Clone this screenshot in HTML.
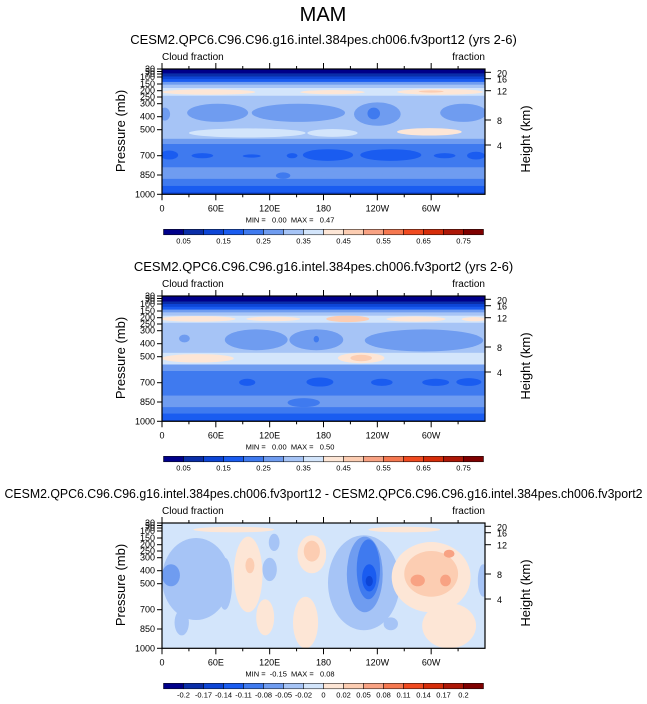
<!DOCTYPE html>
<html><head><meta charset="utf-8"><style>
html,body{margin:0;padding:0;background:#fff}
svg{display:block;font-family:"Liberation Sans",Arial,sans-serif}
text{white-space:pre}
</style></head><body>
<svg id="fig" width="647" height="704" viewBox="0 0 647 704">
<text x="323" y="21" font-size="20" text-anchor="middle">MAM</text>
</svg>
<script>
// ---- data ----
const panelTitles = ["CESM2.QPC6.C96.C96.g16.intel.384pes.ch006.fv3port12 (yrs 2-6)",
  "CESM2.QPC6.C96.C96.g16.intel.384pes.ch006.fv3port2 (yrs 2-6)",
  "CESM2.QPC6.C96.C96.g16.intel.384pes.ch006.fv3port12 - CESM2.QPC6.C96.C96.g16.intel.384pes.ch006.fv3port2"];
const minMax = ["MIN =   0.00  MAX =   0.47","MIN =   0.00  MAX =   0.50","MIN =  -0.15  MAX =   0.08"];
const lonTicks = [0,60,120,180,240,300];
const lonLabels = ["0","60E","120E","180","120W","60W"];
const presTicks = [1000,850,700,500,400,300,250,200,150,100,70,50,30];
const heightTicks = [20,16,12,8,4];
const cbLabelsAbs = ["0.05","0.15","0.25","0.35","0.45","0.55","0.65","0.75"];
const cbLabelsDiff = ["-0.2","-0.17","-0.14","-0.11","-0.08","-0.05","-0.02","0","0.02","0.05","0.08","0.11","0.14","0.17","0.2"];
const palette = ["#00008a","#0a2ea8","#0d45d6","#1a5cf0","#3f7aef","#6f9cf0","#a6c4f6","#d3e5fb","#fde6d6","#fccdb2","#f8a283","#f57850","#f04a20","#d62d0a","#ad1707","#7f0000"];
// bands: [pTop, pBot, level]
const bands1 = [[20,65,0],[65,95,1],[95,115,2],[115,135,3],[135,155,5],[155,180,6],[180,240,7],[240,480,6],[480,570,6],[570,610,5],[610,790,4],[790,880,5],[880,935,4],[935,985,3],[985,1000,2]];
const bands2 = [[20,75,0],[75,100,1],[100,120,2],[120,140,3],[140,160,5],[160,185,6],[185,240,7],[240,470,6],[470,560,7],[560,610,5],[610,800,4],[800,890,5],[890,940,4],[940,990,3],[990,1000,2]];
const bands3 = [[20,1000,7]];
// blobs: [lonCenter, lonHalfWidth, pTop, pBot, level]
const blobs1 = [
 [52,52,190,232,8],[190,36,195,228,8],[310,48,188,232,8],[300,14,198,215,9],
 [3,6,330,430,5],[62,34,300,440,5],[152,52,300,440,5],[240,26,290,470,5],[336,26,300,440,5],[236,7,330,420,4],
 [95,65,490,560,7],[190,28,495,555,7],[298,36,488,545,8],
 [8,10,660,730,3],[45,12,680,720,3],[100,10,690,715,3],[145,6,680,720,3],[185,28,650,740,3],[255,34,650,740,3],[315,12,680,720,3],[350,10,670,730,3],
 [50,30,825,875,5],[190,40,820,870,5],[300,55,820,870,5],[135,8,830,880,4]];
const blobs2 = [
 [40,42,188,232,8],[124,30,192,228,8],[207,24,185,235,9],[283,33,190,232,8],[348,14,195,228,8],
 [25,6,330,390,5],[105,35,290,450,5],[172,30,290,450,5],[292,66,290,460,5],[172,3,340,390,4],
 [40,40,480,545,8],[222,26,470,550,8],[222,12,485,535,9],
 [95,9,670,725,3],[176,15,660,730,3],[245,12,670,725,3],[305,15,670,725,3],[342,14,665,725,3],
 [158,18,820,890,4]];
const blobs3 = [
 [80,45,60,110,8],[270,40,60,110,8],
 [38,38,150,780,6],[10,10,350,520,5],[120,8,300,480,6],[125,6,120,250,6],[70,8,300,700,6],
 [96,16,140,720,8],[98,5,300,420,9],[167,16,130,420,8],[167,9,170,330,9],
 [225,40,130,860,6],[226,20,140,720,5],[230,13,160,620,4],[231,8,350,560,3],[231,4,440,520,2],
 [300,44,180,720,8],[300,30,250,600,9],[285,8,430,520,10],[316,6,430,520,10],[320,6,240,300,10],
 [160,14,600,1000,8],[115,10,620,900,8],[320,30,650,1000,8],[255,8,760,860,6],[22,8,700,900,6],[358,6,350,600,6]];
// ---- drawing ----
const svg = document.getElementById('fig');
const NS = "http://www.w3.org/2000/svg";
const X0 = 162, W = 323, H = 125.3;
const pTab = [[1000,125.3],[850,106],[700,86.7],[500,60.7],[400,47.7],[300,34.7],[250,28],[200,21.7],[150,15],[100,8],[70,5],[50,2.5],[30,0],[20,0]];
const hTab = [[20,3.3],[16,9.7],[12,21.7],[8,51],[4,76]];
function xL(lon){return X0 + lon/360*W;}
function yRel(p){for(let i=0;i<pTab.length-1;i++){const a=pTab[i],b=pTab[i+1];if(p<=a[0]&&p>=b[0]){return a[1]+(b[1]-a[1])*(a[0]-p)/(a[0]-b[0]);}}return p>1000?H:0;}
function yH(h,top){for(const t of hTab){if(t[0]===h)return top+t[1];}return top;}
function mk(tag,attrs,parent){const e=document.createElementNS(NS,tag);for(const k in attrs)e.setAttribute(k,attrs[k]);(parent||svg).appendChild(e);return e;}
function txt(x,y,s,size,anchor,parent){const e=mk('text',{x:x,y:y,'font-size':size,'text-anchor':anchor||'start'},parent);e.textContent=s;return e;}

const panels=[{top:69,bands:bands1,blobs:blobs1,cb:cbLabelsAbs},{top:296,bands:bands2,blobs:blobs2,cb:cbLabelsAbs},{top:523,bands:bands3,blobs:blobs3,cb:cbLabelsDiff}];
panels.forEach((P,pi)=>{
  const g=mk('g',{});
  
  
  const top=P.top, yP=p=>top+yRel(p);
  const t=txt(323.5,top-25,panelTitles[pi],13,'middle',g);
  
  
  if(pi===2){t.setAttribute('textLength','638');t.setAttribute('lengthAdjust','spacingAndGlyphs');}
  const l1=txt(162,top-9,'Cloud fraction',10,'start',g);
  
  
  const l2=txt(485,top-9,'fraction',10,'end',g);
  
  
  const cid='clip'+pi;
  const cp=mk('clipPath',{id:cid},g);mk('rect',{x:X0,y:top,width:W,height:H},cp);
  const field=mk('g',{'clip-path':'url(#'+cid+')'},g);
  
  
  P.bands.forEach(b=>{
    const r=mk('rect',{x:X0,y:yP(b[0]),width:W,height:yP(b[1])-yP(b[0])+0.5,fill:palette[b[2]]},field);
    
    
  });
  P.blobs.forEach(b=>{
    const cx=xL(b[0]),rx=b[1]/360*W,y1=yP(b[2]),y2=yP(b[3]);
    const e=mk('ellipse',{cx:cx,cy:(y1+y2)/2,rx:rx,ry:(y2-y1)/2,fill:palette[b[4]]},field);
    
    
  });
  mk('rect',{x:X0,y:top,width:W,height:H,fill:'none',stroke:'#000','stroke-width':1.2},g);
  for(let lon=0;lon<360;lon+=30){
    const x=xL(lon),maj=lon%60===0?6:3;
    mk('line',{x1:x,y1:top+H,x2:x,y2:top+H+maj,stroke:'#000'},g);
    mk('line',{x1:x,y1:top,x2:x,y2:top-maj,stroke:'#000'},g);
  }
  lonTicks.forEach((lon,i)=>{const tl=txt(xL(lon),top+H+17,lonLabels[i],9,'middle',g);
    
    });
  presTicks.forEach(p=>{const y=yP(p);mk('line',{x1:X0,y1:y,x2:X0-5,y2:y,stroke:'#000'},g);
    const tl=txt(X0-7,y+3,String(p),9,'end',g);
    
    });
  heightTicks.forEach(h=>{const y=yH(h,top);mk('line',{x1:X0+W,y1:y,x2:X0+W+6,y2:y,stroke:'#000'},g);
    const tl=txt(X0+W+12,y+4,String(h),9,'start',g);
    
    });
  const ya=txt(0,0,'Pressure (mb)',13,'middle',g);
  ya.setAttribute('transform','translate(125,'+(top+62)+') rotate(-90)');
  
  
  const yb=txt(0,0,'Height (km)',13,'middle',g);
  yb.setAttribute('transform','translate(530,'+(top+70)+') rotate(-90)');
  
  
  const mm=txt(290,top+H+28,minMax[pi],7.5,'middle',g);
  
  
  const cb=mk('g',{},g);
  
  
  const cbY=top+H+35,cbX=163.5,cbW=320,bw=cbW/16;
  palette.forEach((c,i)=>{const r=mk('rect',{x:cbX+i*bw,y:cbY,width:bw,height:5.5,fill:c,stroke:'#000','stroke-width':0.5},cb);
    
    });
  P.cb.forEach((s,i)=>{const k=pi<2?(2*i+1):(i+1);const tl=txt(cbX+k*bw,cbY+14,s,7.5,'middle',cb);
    
    });
});
</script>
</body></html>
